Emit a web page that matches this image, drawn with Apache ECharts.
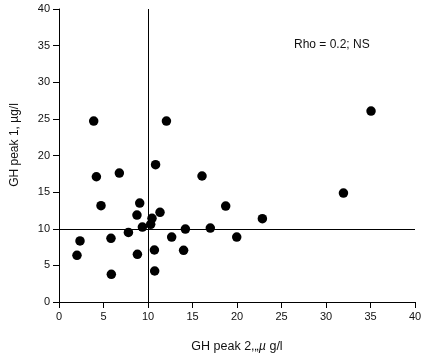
<!DOCTYPE html>
<html>
<head>
<meta charset="utf-8">
<script src="https://cdn.jsdelivr.net/npm/echarts@6/dist/echarts.min.js"></script>
<style>html,body{margin:0;padding:0;background:#fff}#c{width:431px;height:358px}</style>
</head>
<body>
<div id="c"></div>
<script>
// GH peak 2 (x) and GH peak 1 (y), µg/l
const ghPeak2 = [3.9, 12.07, 10.85, 6.78, 4.2, 16.07, 4.72, 9.07, 8.76, 11.35, 10.45, 10.3, 9.37, 7.8, 18.73, 14.2, 17.0, 12.66, 19.97, 5.84, 2.36, 2.02, 8.81, 10.72, 14.0, 10.75, 5.88, 22.85, 31.96, 35.06];
const ghPeak1 = [24.7, 24.7, 18.74, 17.6, 17.1, 17.2, 13.15, 13.5, 11.87, 12.24, 11.42, 10.6, 10.23, 9.5, 13.1, 9.96, 10.1, 8.87, 8.87, 8.69, 8.33, 6.37, 6.51, 7.1, 7.05, 4.23, 3.78, 11.37, 14.87, 26.06];
const refX = 10;
const refY = 10;
const axisTicks = [0, 5, 10, 15, 20, 25, 30, 35, 40];
const xTitleParts = ['GH peak 2,\u201e', '\u00b5', ' g/l'];
const yTitle = 'GH peak 1, \u00b5g/l';
const note = 'Rho = 0.2; NS';

const font = '"Liberation Sans", Arial, Helvetica, sans-serif';
const ink = '#111';
const chart = echarts.init(document.getElementById('c'));
const axisCommon = {
  type: 'value', min: axisTicks[0], max: axisTicks[axisTicks.length - 1], interval: 5,
  axisLine: { show: true, lineStyle: { color: '#000', width: 1 } },
  axisTick: { show: true, length: 6, lineStyle: { color: '#000' } },
  axisLabel: { color: ink, fontSize: 11, fontFamily: font, margin: 9 },
  splitLine: { show: false }
};
chart.setOption({
  animation: false,
  grid: { left: 59, right: 16, top: 9, bottom: 55, containLabel: false },
  xAxis: Object.assign({}, axisCommon, {
    name: xTitleParts[0] + '{mu|' + xTitleParts[1] + '}' + xTitleParts[2],
    nameLocation: 'middle', nameGap: 38,
    nameTextStyle: {
      color: ink, fontSize: 12.5, fontFamily: font,
      rich: { mu: { color: ink, fontSize: 12.5, fontFamily: font, fontStyle: 'italic' } }
    }
  }),
  yAxis: Object.assign({}, axisCommon),
  graphic: [
    { type: 'text', x: 15, y: 145, rotation: Math.PI / 2,
      style: { text: yTitle, fill: ink, fontSize: 12, fontFamily: font, align: 'center', verticalAlign: 'middle' } },
    { type: 'text', left: 294, top: 39,
      style: { text: note, fill: ink, fontSize: 12, fontFamily: font } }
  ],
  series: [{
    type: 'scatter',
    data: ghPeak2.map((x, i) => [x, ghPeak1[i]]),
    symbol: 'circle', symbolSize: 9.5,
    itemStyle: { color: '#000', opacity: 1 },
    markLine: {
      silent: true, symbol: 'none', animation: false,
      label: { show: false },
      lineStyle: { color: '#000', width: 1, type: 'solid' },
      data: [{ xAxis: refX }, { yAxis: refY }]
    }
  }]
});
</script>
</body>
</html>
